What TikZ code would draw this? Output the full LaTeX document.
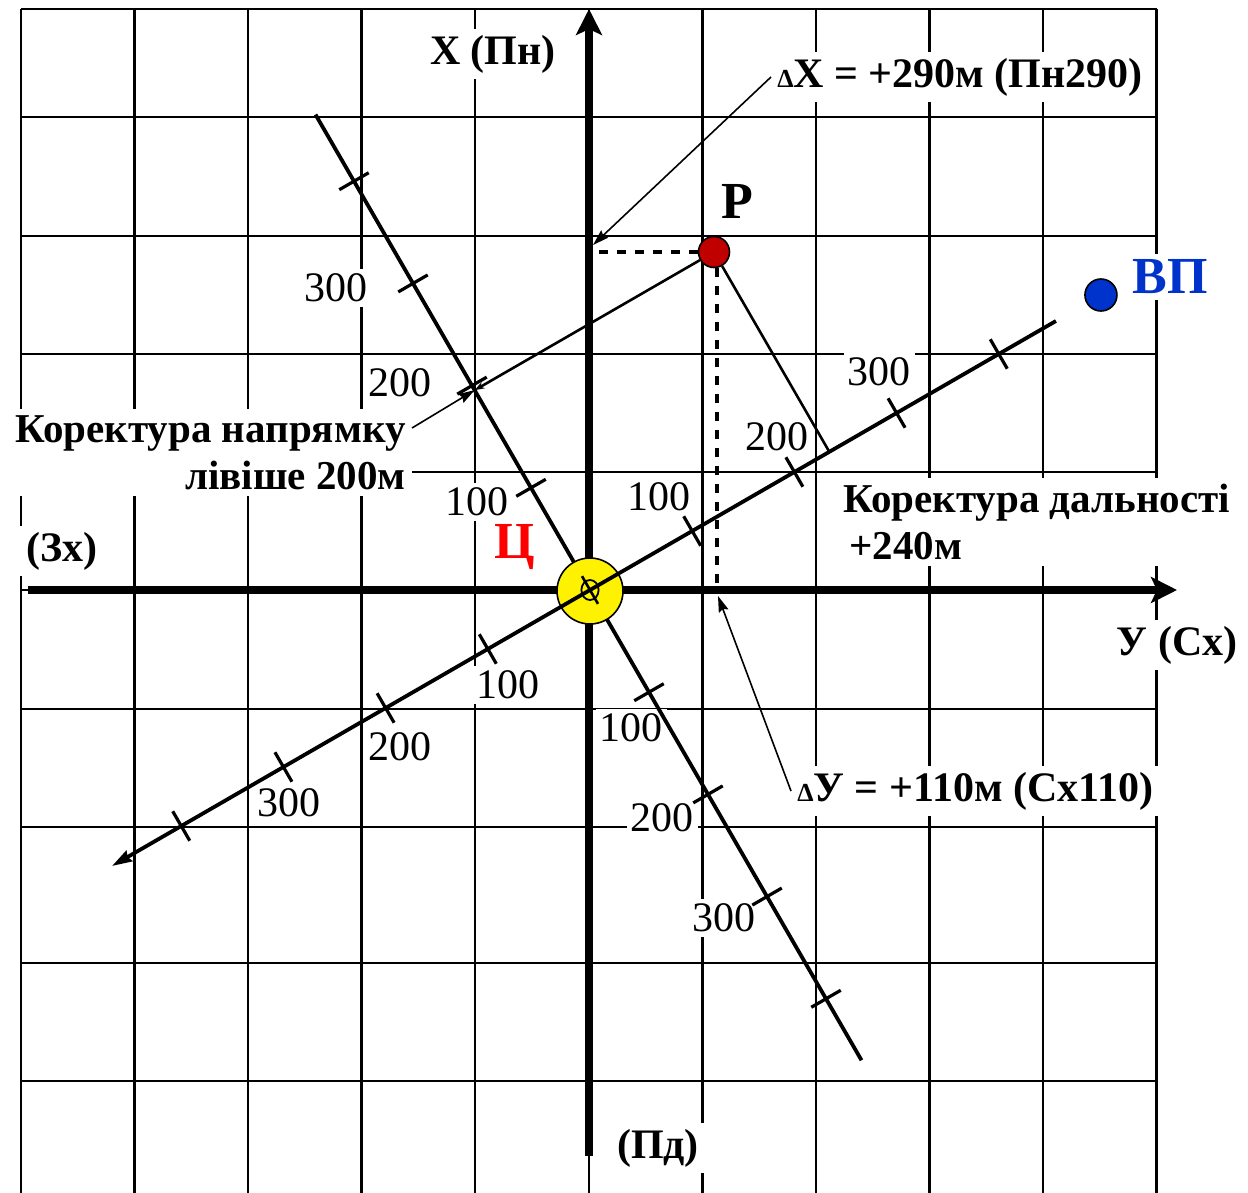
\documentclass[tikz,border=0pt]{standalone}
\usepackage{fontspec}
\setmainfont{Liberation Serif}
\usetikzlibrary{calc,arrows.meta}
\definecolor{burstred}{RGB}{192,0,0}
\definecolor{vpblue}{RGB}{0,51,204}
\newcommand{\Dlt}{{\fontsize{13}{13}\selectfont Δ}}

\begin{document}
\begin{tikzpicture}[x=0.5pt,y=-0.5pt,
  gridline/.style={line width=1.2pt},
  axis/.style={line width=4pt,-{Stealth[length=13pt,width=13pt,inset=3pt]}},
  ruler/.style={line width=1.9pt},
  tick/.style={line width=1.6pt},
  perp/.style={line width=1.3pt},
  leader/.style={line width=0.8pt,-{Stealth[length=8pt,width=5pt,inset=1pt]}},
  dashline/.style={line width=1.6pt,dash pattern=on 4.5pt off 4.5pt},
  lbl/.style={fill=white,inner xsep=3pt,inner ysep=3pt,font=\fontsize{21}{23.5}\selectfont\bfseries},
  note/.style={lbl,font=\fontsize{20.5}{23.5}\selectfont\bfseries},
  num/.style={fill=white,inner xsep=2pt,inner ysep=2.5pt,font=\fontsize{21}{23.5}\selectfont},
  big/.style={fill=white,inner sep=3pt,font=\fontsize{26}{30}\selectfont\bfseries},
  dot/.style={circle,draw,line width=0.8pt,inner sep=0pt,minimum size=#1}]
\useasboundingbox (0,0) rectangle (1248,1193);

\foreach \i in {0,...,10} \draw[gridline] (21+113.55*\i,9) -- (21+113.55*\i,1193);
\foreach \y in {9,117,236,354,472,590,709,827,963,1081} \draw[gridline] (21,\y) -- (1156.5,\y);

\node[num] (ua3) at (336,288) {300}; \node[num] (ua2) at (400,383) {200}; \node[num] (ua1) at (477,502) {100};
\node[num] (da1) at (631,728) {100}; \node[num] (da2) at (662,818) {200}; \node[num] (da3) at (724,918) {300};
\node[num] (ub1) at (659,497) {100}; \node[num] (ub2) at (777,437) {200}; \node[num] (ub3) at (879,372) {300};
\node[num] (db1) at (508,685) {100}; \node[num] (db2) at (400,747) {200}; \node[num] (db3) at (289,803) {300};

\node[lbl] (xlab) at (493,54) {Х (Пн)};
\node[lbl,anchor=west] (dX) at (771,77) {\Dlt Х = +290м (Пн290)};
\node[big] (Plab) at (737,201) {Р};
\node[big,text=vpblue] (VPlab) at (1170,277) {ВП};
\node[note,align=right,anchor=north east] (dirc) at (412,409) {Коректура напрямку\\лівіше 200м};
\node[lbl] (wlab) at (62,551) {(Зх)};
\node[big,text=red] (Clab) at (515,547) {Ц};
\node[note,align=left,anchor=north west] (rngc) at (837,478) {Коректура дальності\\\hspace*{3pt}+240м};
\node[lbl] (ylab) at (1177,645) {У (Сх)};
\node[lbl,anchor=west] (dY) at (791,791) {\Dlt У = +110м (Сх110)};
\node[lbl] (slab) at (658,1148) {(Пд)};

\coordinate (C) at (590,590);
\coordinate (Xbot) at (589,1156); \coordinate (Xtop) at (589,9);
\coordinate (Yleft) at (28,590); \coordinate (Yright) at (1177,590);
\coordinate (L1a) at ($(C)+(240:549)$); \coordinate (L1b) at ($(C)+(60:543)$);
\coordinate (L2a) at ($(C)+(-30:538)$); \coordinate (L2b) at ($(C)+(150:552)$);
\coordinate (dXtip) at (593,245); \coordinate (dYtip) at (718,596);

\node[dot=15.5pt,fill=burstred] (P) at (714,252) {};
\coordinate (F1) at ($(L1a)!(P)!(L1b)$); \coordinate (F2) at ($(L2b)!(P)!(L2a)$);
\coordinate (Pb) at ([xshift=1.5pt]P.south);
\draw[dashline] (P.west) -- (P.west -| C); \draw[dashline] (Pb) -- (Pb |- C);

\draw[axis] (Xbot) -- (Xtop); \draw[axis] (Yleft) -- (Yright);

\draw[ruler] (L1a) -- (L1b);
\foreach \a in {60,240} \foreach \k in {1,...,4} \draw[tick] ($(C)+(\a:\k*118)$) ++(\a+90:17) -- ++(\a-90:34);

\node[dot=33pt,fill=yellow] (Cc) at (590,591) {};
\draw[ruler,-{Stealth[length=10pt,width=6pt,inset=1pt]}] (L2a) -- (L2b);
\foreach \a in {-30,150} \foreach \k in {1,...,4} \draw[tick] ($(C)+(\a:\k*118)$) ++(\a+90:17) -- ++(\a-90:34);
\draw[line width=0.9pt] (C) circle[x radius=4.3pt,y radius=5pt]; \draw[line width=1.3pt] ($(C)+(240:16)$) -- ($(C)+(60:16)$);

\node[dot=16pt,fill=vpblue] (VP) at ($(C)+(-30:590)$) {};
\draw[perp,-{Stealth[length=5pt,width=3.5pt]}] (P) -- (F1); \draw[perp] (P) -- (F2);
\draw[leader] ([yshift=-9.5pt]dirc.north east) -- (F1);
\draw[leader] (dX.west) -- (dXtip); \draw[leader] (dY.west) -- (dYtip);
\end{tikzpicture}
\end{document}
